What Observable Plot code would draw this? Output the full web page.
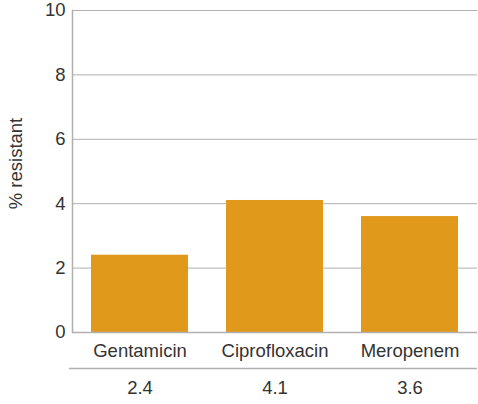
<!DOCTYPE html>
<html>
<head>
<meta charset="utf-8">
<script src="https://cdn.jsdelivr.net/npm/d3@7"></script>
<script src="https://cdn.jsdelivr.net/npm/@observablehq/plot@0.6"></script>
<style>
  html, body { margin: 0; padding: 0; background: #fff; }
  #chart svg { display: block; }
</style>
</head>
<body>
<div id="chart"></div>
<script>
const categories = ["Gentamicin", "Ciprofloxacin", "Meropenem"];
const values = [2.4, 4.1, 3.6];
const valueLabels = ["2.4", "4.1", "3.6"];
const yTicks = [0, 2, 4, 6, 8, 10];

const data = categories.map((c, i) => ({ category: c, value: values[i], label: valueLabels[i] }));

const textColor = "#333333";
const gridColor = "#b0b0b0";
const barColor = "#e0991b";
const fs = 18.5;

const chart = Plot.plot({
  width: 478,
  height: 404,
  marginLeft: 72,
  marginRight: 1,
  marginTop: 10,
  marginBottom: 72,
  style: { fontFamily: "Liberation Sans, Arial, sans-serif", fontSize: fs + "px", color: textColor, background: "#fff" },
  x: { domain: categories, paddingInner: 0.28, paddingOuter: 0.14, axis: null },
  y: { domain: [0, 10], axis: null },
  marks: [
    Plot.gridY(yTicks, { stroke: gridColor, strokeOpacity: 1, strokeWidth: 1 }),
    Plot.barY(data, { x: "category", y: "value", fill: barColor }),
    Plot.ruleY([0], { stroke: gridColor, strokeWidth: 1.5 }),
    Plot.frame({ anchor: "left", stroke: gridColor, strokeWidth: 1.5 }),
    Plot.axisY(yTicks, { tickSize: 0, tickPadding: 7, fontSize: fs, fill: textColor, label: null }),
    Plot.text(data, { x: "category", text: "category", frameAnchor: "bottom", dy: 19, lineAnchor: "middle", fontSize: fs, fill: textColor }),
    Plot.ruleY([0], { stroke: gridColor, strokeWidth: 1.5, dy: 36, insetLeft: -3 }),
    Plot.text(data, { x: "category", text: "label", frameAnchor: "bottom", dy: 56, lineAnchor: "middle", fontSize: fs, fill: textColor }),
    Plot.text(["% resistant"], { frameAnchor: "left", textAnchor: "middle", rotate: -90, dx: -56, dy: -8, fontSize: fs, fill: textColor, lineAnchor: "middle" })
  ]
});

document.getElementById("chart").appendChild(chart);
</script>
</body>
</html>
